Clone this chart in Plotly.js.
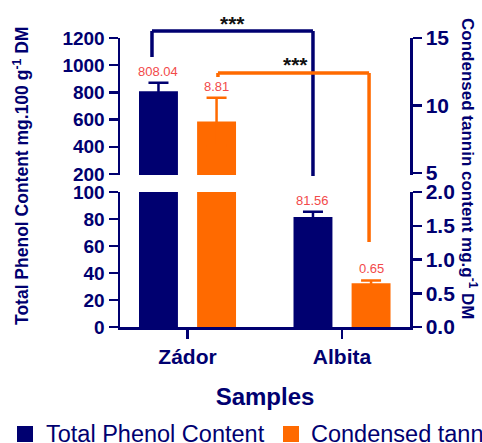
<!DOCTYPE html>
<html>
<head>
<meta charset="utf-8">
<script src="https://cdn.plot.ly/plotly-3.0.1.min.js"></script>
<style>html,body{margin:0;padding:0;background:#fff;}#chart{width:482px;height:443px;}</style>
</head>
<body>
<div id="chart"></div>
<script>
// ---- data ----
const samples = ['Zádor', 'Albita'];
const tpc = [808.04, 81.56];          // Total Phenol Content, mg.100 g-1 DM (left axis)
const tpcErr = [63, 3.8];
const tannin = [8.81, 0.65];          // Condensed tannin content, mg.g-1 DM (right axis)
const tanninErr = [1.76, 0.04];
const tpcLabels = ['808.04', '81.56'];
const tanninLabels = ['8.81', '0.65'];
const seriesNames = ['Total Phenol Content', 'Condensed tannin content'];
const sigText = '***';

// ---- style ----
const NAVY = '#000070';
const ORANGE = '#ff6a00';
const LABEL_RED = '#f24a4a';
const FONT = 'Liberation Sans, Arial, sans-serif';
const W = 482, H = 443, L = 120, R = 72, T = 38, B = 116;
const PW = W - L - R, PH = H - T - B;
const px = v => (v - L) / PW;          // pixel -> paper x
const py = v => (H - B - v) / PH;      // pixel -> paper y

const lowTop = 100, lowTopR = 2.0;
const BW = 0.252, OFF = 0.188;

const lowerDomain = [0, py(192)];
const upperDomain = [py(175), 1];

function barTrace(name, y, err, color, xa, ya, off) {
  return {type: 'bar', name: name, x: samples, y: y, xaxis: xa, yaxis: ya,
    width: BW, offset: off - BW / 2, marker: {color: color, line: {width: 0}}, showlegend: false,
    error_y: {type: 'data', array: err, symmetric: true, color: color, thickness: 2.5, width: 10}};
}

const traces = [
  barTrace(seriesNames[0], tpc, tpcErr, NAVY, 'x', 'y', -OFF),
  barTrace(seriesNames[0], tpc, tpcErr, NAVY, 'x2', 'y3', -OFF),
  barTrace(seriesNames[1], tannin, tanninErr, ORANGE, 'x', 'y2', OFF),
  barTrace(seriesNames[1], tannin, tanninErr, ORANGE, 'x2', 'y4', OFF)
];

const tickFontL = {family: FONT, size: 19, color: NAVY, weight: 'bold'};
const tickFontR = {family: FONT, size: 21, color: NAVY, weight: 'bold'};
const axBase = {showgrid: false, zeroline: false, showline: true, linecolor: NAVY, linewidth: 2.5,
  ticks: 'outside', ticklen: 9, tickwidth: 2.5, tickcolor: NAVY, fixedrange: true};

const annotations = [];
// value labels
samples.forEach((s, i) => {
  const top1 = tpc[i] + tpcErr[i];
  annotations.push({x: i - OFF, y: top1, xref: 'x', yref: top1 > lowTop ? 'y3' : 'y',
    text: tpcLabels[i], showarrow: false, xanchor: 'center', yanchor: 'bottom', yshift: 2,
    font: {family: FONT, size: 13, color: LABEL_RED}});
  const top2 = tannin[i] + tanninErr[i];
  annotations.push({x: i + OFF, y: top2, xref: 'x', yref: top2 > lowTopR ? 'y4' : 'y2',
    text: tanninLabels[i], showarrow: false, xanchor: 'center', yanchor: 'bottom', yshift: 2,
    font: {family: FONT, size: 13, color: LABEL_RED}});
});
// significance stars
annotations.push({x: 0.294, y: py(23), xref: 'x', yref: 'paper', text: sigText, showarrow: false,
  xanchor: 'center', yanchor: 'middle', font: {family: FONT, size: 21, color: '#111', weight: 'bold'}});
annotations.push({x: 0.696, y: py(64), xref: 'x', yref: 'paper', text: sigText, showarrow: false,
  xanchor: 'center', yanchor: 'middle', font: {family: FONT, size: 21, color: '#111', weight: 'bold'}});
// axis titles
annotations.push({x: px(21), y: py(176), xref: 'paper', yref: 'paper', textangle: -90, showarrow: false,
  xanchor: 'center', yanchor: 'middle',
  text: 'Total Phenol Content mg.100 g<sup>-1</sup> DM', font: {family: FONT, size: 17.5, color: NAVY, weight: 'bold'}});
annotations.push({x: px(469), y: py(168), xref: 'paper', yref: 'paper', textangle: 90, showarrow: false,
  xanchor: 'center', yanchor: 'middle',
  text: 'Condensed tannin content mg.g<sup>-1</sup> DM', font: {family: FONT, size: 17, color: NAVY, weight: 'bold'}});
// legend text
annotations.push({x: px(44), y: py(434), xref: 'paper', yref: 'paper', xanchor: 'left', yanchor: 'middle', showarrow: false,
  text: seriesNames[0], font: {family: FONT, size: 23.5, color: NAVY}});
annotations.push({x: px(309), y: py(434), xref: 'paper', yref: 'paper', xanchor: 'left', yanchor: 'middle', showarrow: false,
  text: seriesNames[1], font: {family: FONT, size: 23.5, color: NAVY}});

const shapes = [
  // navy bracket
  {type: 'line', xref: 'x', yref: 'paper', x0: -0.23, x1: -0.23, y0: py(57), y1: py(31), line: {color: NAVY, width: 3.5}},
  {type: 'line', xref: 'x', yref: 'paper', x0: -0.23, x1: 1 - OFF, y0: py(31), y1: py(31), line: {color: NAVY, width: 3.5}},
  {type: 'line', xref: 'x', yref: 'paper', x0: 1 - OFF, x1: 1 - OFF, y0: py(31), y1: py(176), line: {color: NAVY, width: 3.5}},
  // orange bracket
  {type: 'line', xref: 'x', yref: 'paper', x0: 0.197, x1: 0.197, y0: py(73), y1: py(77), line: {color: ORANGE, width: 3.5}},
  {type: 'line', xref: 'x', yref: 'paper', x0: 0.197, x1: 1.175, y0: py(73), y1: py(73), line: {color: ORANGE, width: 3.5}},
  {type: 'line', xref: 'x', yref: 'paper', x0: 1.175, x1: 1.175, y0: py(73), y1: py(242), line: {color: ORANGE, width: 3.5}},
  // legend keys
  {type: 'rect', xref: 'paper', yref: 'paper', x0: px(17), x1: px(33), y0: py(442), y1: py(426), fillcolor: NAVY, line: {width: 0}},
  {type: 'rect', xref: 'paper', yref: 'paper', x0: px(283), x1: px(299), y0: py(442), y1: py(426), fillcolor: ORANGE, line: {width: 0}}
];

const layout = {
  width: W, height: H,
  margin: {l: L, r: R, t: T, b: B, pad: 0},
  paper_bgcolor: '#fff', plot_bgcolor: 'rgba(0,0,0,0)',
  showlegend: false,
  xaxis: Object.assign({}, axBase, {range: [-0.437, 1.44], anchor: 'y', domain: [0, 1],
    tickfont: {family: FONT, size: 21, color: NAVY, weight: 'bold'},
    title: {text: 'Samples', standoff: 22, font: {family: FONT, size: 24, color: NAVY, weight: 'bold'}}}),
  xaxis2: {matches: 'x', anchor: 'y3', domain: [0, 1], visible: false, fixedrange: true},
  yaxis: Object.assign({}, axBase, {domain: lowerDomain, range: [0, lowTop], dtick: 20, anchor: 'x', tickfont: tickFontL}),
  yaxis2: Object.assign({}, axBase, {overlaying: 'y', side: 'right', range: [0, lowTopR], dtick: 0.5, tickformat: '.1f', anchor: 'x', tickfont: tickFontR}),
  yaxis3: Object.assign({}, axBase, {domain: upperDomain, range: [193, 1200], tickvals: [200, 400, 600, 800, 1000, 1200], anchor: 'x2', tickfont: tickFontL}),
  yaxis4: Object.assign({}, axBase, {overlaying: 'y3', side: 'right', range: [4.85, 15], tickvals: [5, 10, 15], anchor: 'x2', tickfont: tickFontR}),
  annotations: annotations,
  shapes: shapes
};

Plotly.newPlot('chart', traces, layout, {displayModeBar: false, staticPlot: true});
</script>
</body>
</html>
